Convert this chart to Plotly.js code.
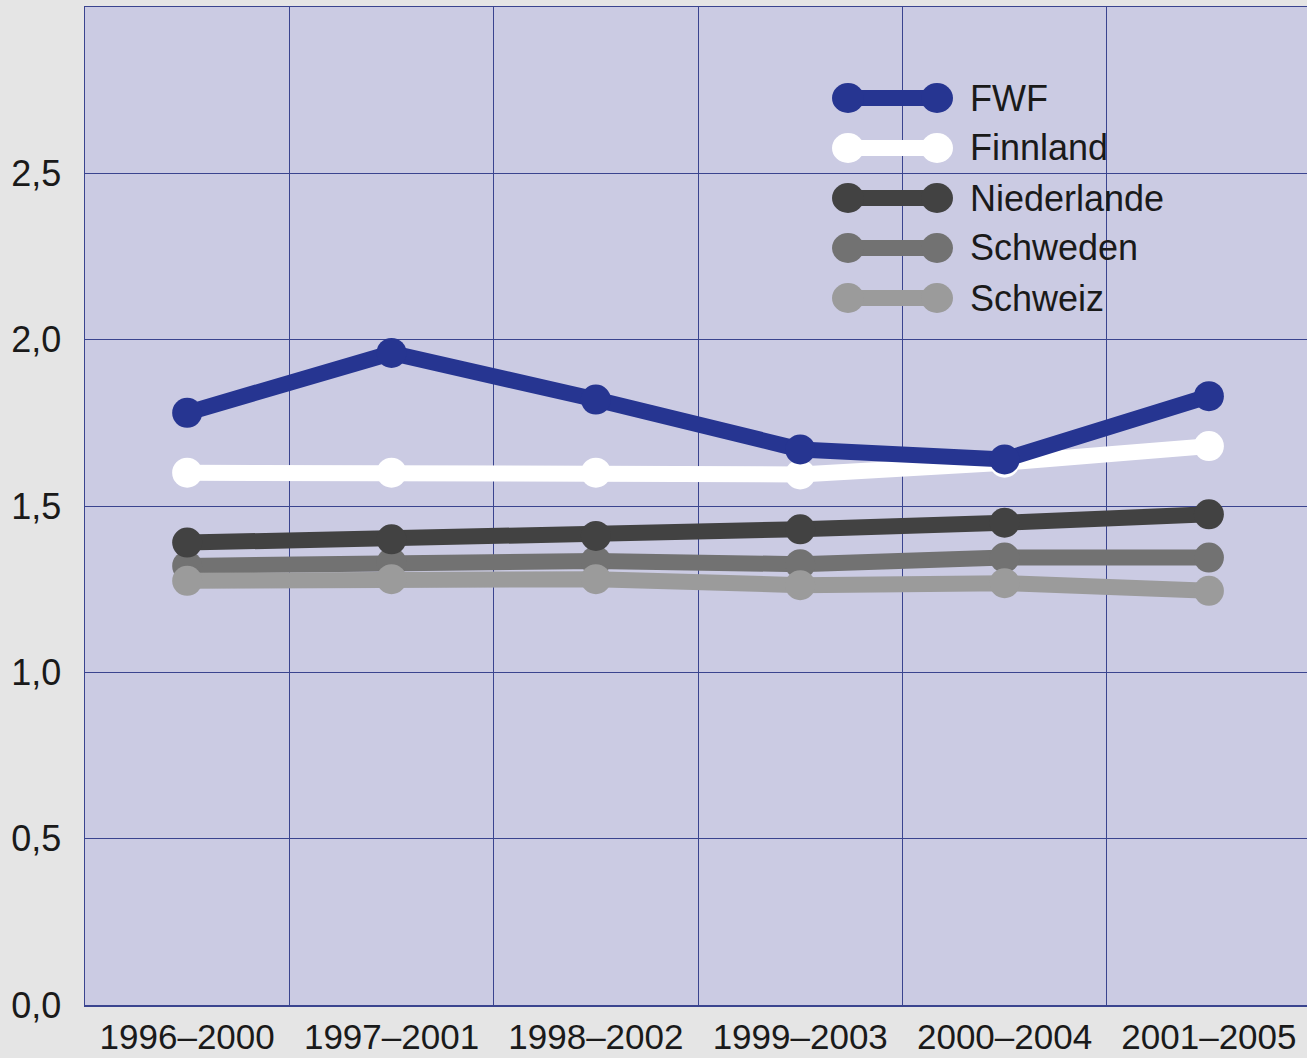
<!DOCTYPE html>
<html>
<head>
<meta charset="utf-8">
<script src="https://cdn.plot.ly/plotly-3.0.1.min.js"></script>
<style>
  html, body { margin: 0; padding: 0; background: #e5e5e5; }
  #chart { width: 1307px; height: 1058px; }
</style>
</head>
<body>
<div id="chart"></div>
<script>
// ---- Data ----
const periods = ["1996–2000", "1997–2001", "1998–2002", "1999–2003", "2000–2004", "2001–2005"];

const fwf         = [1.78, 1.96, 1.82, 1.67, 1.64, 1.83];
const finnland    = [1.60, 1.60, 1.60, 1.595, 1.63, 1.68];
const niederlande = [1.39, 1.40, 1.41, 1.43, 1.45, 1.475];
const schweden    = [1.32, 1.33, 1.335, 1.325, 1.345, 1.345];
const schweiz     = [1.275, 1.28, 1.28, 1.262, 1.268, 1.245];

const yTickVals = [0, 0.5, 1.0, 1.5, 2.0, 2.5];

// series in legend order
const series = [
  { name: "FWF",         values: fwf,         color: "#263591" },
  { name: "Finnland",    values: finnland,    color: "#ffffff" },
  { name: "Niederlande", values: niederlande, color: "#424242" },
  { name: "Schweden",    values: schweden,    color: "#727272" },
  { name: "Schweiz",     values: schweiz,     color: "#9b9b9b" }
];

// drawing order (bottom to top)
const drawOrder = ["Schweden", "Schweiz", "Niederlande", "Finnland", "FWF"];

const traces = drawOrder.map(function (nm) {
  const s = series.find(function (q) { return q.name === nm; });
  return {
    type: "scatter",
    mode: "lines+markers",
    name: s.name,
    x: periods,
    y: s.values,
    line: { color: s.color, width: 16 },
    marker: { color: s.color, size: 30 },
    showlegend: false,
    hoverinfo: "x+y+name"
  };
});

// ---- custom legend (dumbbell keys) ----
const W = 1307, H = 1058;
const mL = 85, mR = 0, mT = 7, mB = 53;
const plotW = W - mL - mR, plotH = H - mT - mB;
function px2x(px) { return (px - mL) / plotW; }
function py2y(py) { return (H - mB - py) / plotH; }

const shapes = [];
const annotations = [];
const legX0 = 848, legX1 = 937, legText = 968, legTop = 98, legStep = 50;
series.forEach(function (s, i) {
  const py = legTop + i * legStep;
  const yy = py2y(py);
  shapes.push({
    type: "line", xref: "paper", yref: "paper",
    x0: px2x(legX0), x1: px2x(legX1), y0: yy, y1: yy,
    line: { color: s.color, width: 16 }
  });
  [legX0, legX1].forEach(function (cx) {
    shapes.push({
      type: "circle", xref: "paper", yref: "paper",
      xsizemode: "pixel", ysizemode: "pixel",
      xanchor: px2x(cx), yanchor: yy,
      x0: -16, x1: 16, y0: -15, y1: 15,
      fillcolor: s.color, line: { width: 0 }
    });
  });
  annotations.push({
    xref: "paper", yref: "paper",
    x: px2x(legText), y: yy,
    xanchor: "left", yanchor: "middle",
    text: s.name, showarrow: false,
    font: { family: "Liberation Sans, Arial, sans-serif", size: 36, color: "#1a1a1a" }
  });
});

const gridColor = "#3a448f";

const layout = {
  width: W, height: H,
  margin: { l: mL, r: mR, t: mT, b: mB, pad: 0 },
  paper_bgcolor: "#e5e5e5",
  plot_bgcolor: "#cbcbe3",
  separators: ",.",
  font: { family: "Liberation Sans, Arial, sans-serif", size: 36, color: "#1a1a1a" },
  showlegend: false,
  xaxis: {
    type: "category",
    range: [-0.5, 5.48],
    tickson: "boundaries",
    ticks: "",
    showgrid: true,
    gridcolor: gridColor,
    gridwidth: 1,
    showline: true,
    linecolor: gridColor,
    linewidth: 1.5,
    mirror: true,
    zeroline: false,
    ticklabelstandoff: 0,
    tickfont: { size: 35, color: "#1a1a1a" },
    fixedrange: true
  },
  yaxis: {
    range: [0, 3],
    tickvals: yTickVals,
    tickformat: ".1f",
    ticks: "",
    showgrid: true,
    gridcolor: gridColor,
    gridwidth: 1,
    showline: true,
    linecolor: gridColor,
    linewidth: 1.5,
    zeroline: false,
    ticklabelstandoff: 15,
    tickfont: { size: 36, color: "#1a1a1a" },
    fixedrange: true
  },
  shapes: shapes,
  annotations: annotations
};

Plotly.newPlot("chart", traces, layout, { displayModeBar: false, staticPlot: true });
</script>
</body>
</html>
